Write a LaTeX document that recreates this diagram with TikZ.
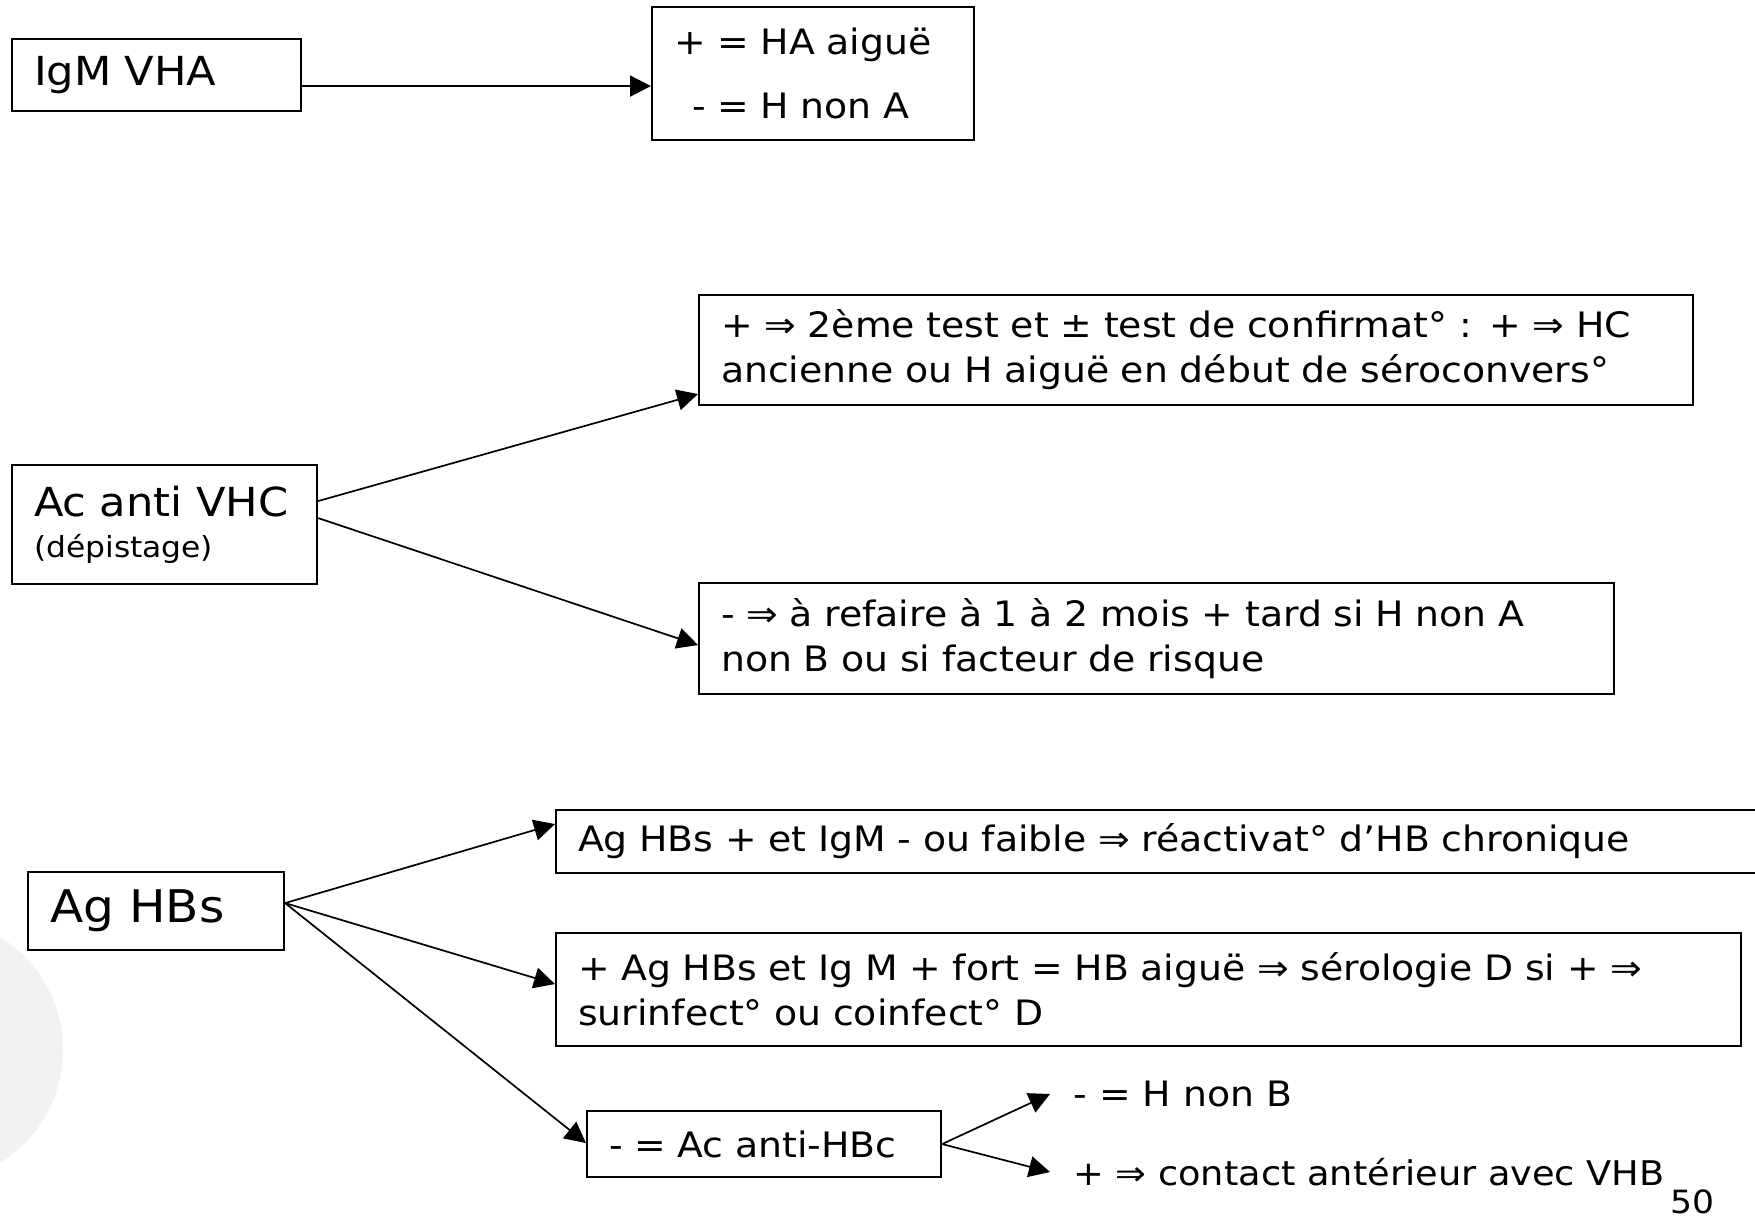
\documentclass[tikz,border=0pt]{standalone}
\usepackage{fontspec}
\setmainfont{DejaVu Sans}[FakeStretch=1.08]
\usetikzlibrary{arrows.meta}

\begin{document}
\begin{tikzpicture}[x=0.5pt,y=-0.5pt,
    box/.style={draw,line width=1.05pt,anchor=north west,align=left,
        inner xsep=11pt,inner ysep=0pt,font=\fontsize{17.5}{22.5}\selectfont},
    big/.style={font=\fontsize{20}{20.5}\selectfont},
    lbl/.style={anchor=west,inner xsep=11.5pt,inner ysep=0pt,font=\fontsize{17.5}{22.5}\selectfont},
    arr/.style={-{Triangle[length=10.5pt,width=10.5pt]},line width=0.85pt}]
    \useasboundingbox (0,0) rectangle (1755,1222);
    \fill[black!5] (-70,1050) circle [radius=133];
    %VHA
    \node[box,big,minimum width=144.5pt,minimum height=36pt,text width=122.5pt] (igm) at (11,38) {IgM VHA};
    \node[box,minimum width=161pt,minimum height=66.5pt,text width=139pt] (ha) at (651,6)
        {+ = HA aiguë\\[9.5pt]\hphantom{+}\llap{-} = H non A};
    \draw[arr] ([yshift=-5.5pt]igm.east) -- ([yshift=-5.5pt]igm.east -| ha.west);
    %VHC
    \node[box,big,minimum width=152.5pt,minimum height=59.5pt,text width=130.5pt] (vhc) at (11,464)
        {Ac anti VHC\\{\fontsize{14.5}{20.5}\selectfont(dépistage)}};
    \node[box,minimum width=497pt,minimum height=55pt,text width=475pt] (hcpos) at (698,294)
        {+ ⇒ 2ème test et ± test de confirmat° : + ⇒ HC\\ancienne ou H aiguë en début de séroconvers°};
    \node[box,minimum width=457.5pt,minimum height=55.5pt,text width=435.5pt] (hcneg) at (698,582)
        {- ⇒ à refaire à 1 à 2 mois + tard si H non A\\non B ou si facteur de risque};
    \draw[arr] ([yshift=11.75pt]vhc.east) -- ([yshift=-22pt]hcpos.west);
    \draw[arr] ([yshift=3.25pt]vhc.east) -- ([yshift=-3.25pt]hcneg.west);
    %VHB
    \node[box,font=\fontsize{22.5}{22.5}\selectfont,minimum width=128pt,minimum height=39pt,text width=106pt] (aghbs) at (27,871) {Ag HBs};
    \node[box,minimum width=650pt,minimum height=31.5pt,text width=628pt] (chron) at (555,809)
        {Ag HBs + et IgM - ou faible ⇒ réactivat° d’HB chronique};
    \node[box,minimum width=592.5pt,minimum height=56.5pt,text width=570.5pt] (hbaigue) at (555,932)
        {+ Ag HBs et Ig M + fort = HB aiguë ⇒ sérologie D si + ⇒\\surinfect° ou coinfect° D};
    \node[box,minimum width=177pt,minimum height=33pt,text width=155pt] (antihbc) at (586,1110)
        {- = Ac anti-HBc};
    \draw[arr] ([yshift=4pt]aghbs.east) -- ([yshift=8.75pt]chron.west);
    \draw[arr] ([yshift=4pt]aghbs.east) -- ([yshift=2.75pt]hbaigue.west);
    \draw[arr] ([yshift=4pt]aghbs.east) -- ([yshift=0.5pt]antihbc.west);
    \node[lbl] (hnonb) at (1050,1094) {- = H non B};
    \node[lbl,font=\fontsize{17}{22.5}\selectfont] (contact) at (1050,1172) {+ ⇒ contact antérieur avec VHB};
    \draw[arr] (antihbc.east) -- (hnonb.west);
    \draw[arr] (antihbc.east) -- (contact.west);
    \node[anchor=base,inner sep=0pt,font=\fontsize{16}{16}\selectfont] (pagenum) at (1692,1213) {50};
\end{tikzpicture}
\end{document}
